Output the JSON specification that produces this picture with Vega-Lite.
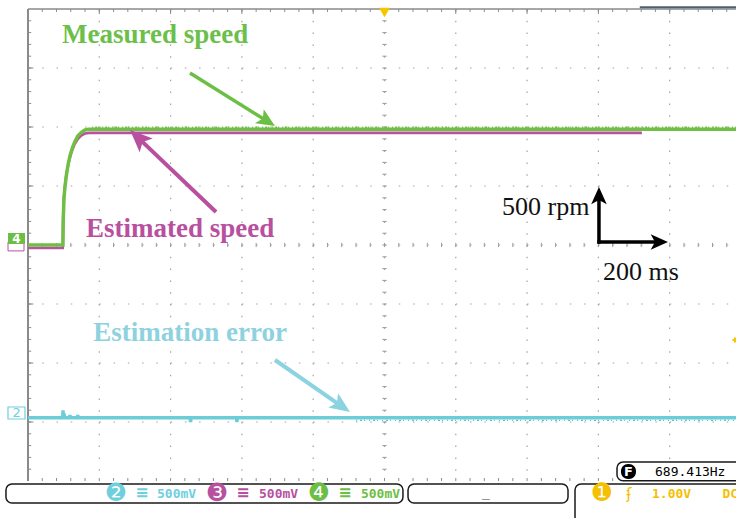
{
  "$schema": "https://vega.github.io/schema/vega-lite/v6.json",
  "width": 708,
  "height": 472,
  "autosize": {"type": "none"},
  "padding": {"left": 28, "top": 9, "right": 0, "bottom": 37},
  "background": "white",
  "config": {"view": {"stroke": null}, "axis": {"disable": true}},
  "datasets": {
    "xmajor": [{"x":1},{"x":2},{"x":3},{"x":4},{"x":5},{"x":6},{"x":7},{"x":8},{"x":9}],
    "ymajor": [{"y":-3},{"y":-2},{"y":-1},{"y":0},{"y":1},{"y":2},{"y":3}],
    "xminor": [{"x":0.2},{"x":0.4},{"x":0.6},{"x":0.8},{"x":1},{"x":1.2},{"x":1.4},{"x":1.6},{"x":1.8},{"x":2},{"x":2.2},{"x":2.4},{"x":2.6},{"x":2.8},{"x":3},{"x":3.2},{"x":3.4},{"x":3.6},{"x":3.8},{"x":4},{"x":4.2},{"x":4.4},{"x":4.6},{"x":4.8},{"x":5},{"x":5.2},{"x":5.4},{"x":5.6},{"x":5.8},{"x":6},{"x":6.2},{"x":6.4},{"x":6.6},{"x":6.8},{"x":7},{"x":7.2},{"x":7.4},{"x":7.6},{"x":7.8},{"x":8},{"x":8.2},{"x":8.4},{"x":8.6},{"x":8.8},{"x":9},{"x":9.2},{"x":9.4},{"x":9.6},{"x":9.8}],
    "yminor": [{"y":-3.8},{"y":-3.6},{"y":-3.4},{"y":-3.2},{"y":-3},{"y":-2.8},{"y":-2.6},{"y":-2.4},{"y":-2.2},{"y":-2},{"y":-1.8},{"y":-1.6},{"y":-1.4},{"y":-1.2},{"y":-1},{"y":-0.8},{"y":-0.6},{"y":-0.4},{"y":-0.2},{"y":0},{"y":0.2},{"y":0.4},{"y":0.6},{"y":0.8},{"y":1},{"y":1.2},{"y":1.4},{"y":1.6},{"y":1.8},{"y":2},{"y":2.2},{"y":2.4},{"y":2.6},{"y":2.8},{"y":3},{"y":3.2},{"y":3.4},{"y":3.6},{"y":3.8}],
    "measured": [{"x":0,"y":0},{"x":0.49,"y":0},{"x":0.495,"y":0.45},{"x":0.505,"y":0.8},{"x":0.52,"y":1.0},{"x":0.54,"y":1.2},{"x":0.565,"y":1.38},{"x":0.59,"y":1.52},{"x":0.62,"y":1.64},{"x":0.66,"y":1.76},{"x":0.7,"y":1.85},{"x":0.75,"y":1.91},{"x":0.8,"y":1.95},{"x":0.85,"y":1.96},{"x":9.93,"y":1.96}],
    "estimated": [{"x":0,"y":-0.05},{"x":0.488,"y":-0.05},{"x":0.492,"y":0.4},{"x":0.5,"y":0.75},{"x":0.515,"y":0.97},{"x":0.535,"y":1.16},{"x":0.56,"y":1.33},{"x":0.585,"y":1.47},{"x":0.615,"y":1.59},{"x":0.655,"y":1.71},{"x":0.7,"y":1.8},{"x":0.75,"y":1.86},{"x":0.8,"y":1.89},{"x":0.86,"y":1.9},{"x":8.61,"y":1.9}],
    "error": [{"x":0,"y":-2.93},{"x":0.488,"y":-2.93},{"x":0.491,"y":-2.8},{"x":0.495,"y":-2.93},{"x":0.505,"y":-2.93},{"x":0.508,"y":-2.86},{"x":0.512,"y":-2.93},{"x":0.585,"y":-2.93},{"x":0.588,"y":-2.88},{"x":0.592,"y":-2.93},{"x":0.695,"y":-2.93},{"x":0.698,"y":-2.88},{"x":0.702,"y":-2.93},{"x":2.275,"y":-2.93},{"x":2.28,"y":-3.0},{"x":2.285,"y":-2.93},{"x":2.925,"y":-2.93},{"x":2.93,"y":-3.0},{"x":2.935,"y":-2.93},{"x":9.93,"y":-2.93}],
    "arrows": [
      {"name":"measured","x":2.272,"y":2.915,"x2":3.369,"y2":2.088,"tx":3.464,"ty":2.017},
      {"name":"estimated","x":2.637,"y":0.559,"x2":1.532,"y2":1.832,"tx":1.431,"ty":1.949},
      {"name":"error","x":3.464,"y":-1.949,"x2":4.401,"y2":-2.734,"tx":4.516,"ty":-2.831},
      {"name":"speed_scale","x":8.008,"y":0.022,"x2":8.008,"y2":0.83,"tx":8.008,"ty":0.983},
      {"name":"time_scale","x":7.985,"y":0.051,"x2":8.85,"y2":0.051,"tx":8.976,"ty":0.051}
    ],
    "labels": [
      {"name":"measured","label":"Measured speed","x":0.477,"y":3.419},
      {"name":"estimated","label":"Estimated speed","x":0.813,"y":0.136},
      {"name":"error","label":"Estimation error","x":0.916,"y":-1.622},
      {"name":"speed_scale","label":"500 rpm","x":6.648,"y":0.508},
      {"name":"time_scale","label":"200 ms","x":8.065,"y":-0.593}
    ],
    "boxes": [
      {"name":"channels","x":-0.309,"x2":5.259,"y":-4.051,"y2":-4.373},
      {"name":"timebase","x":5.33,"x2":7.574,"y":-4.051,"y2":-4.373},
      {"name":"trigger","x":7.672,"x2":10.6,"y":-4.051,"y2":-4.8},
      {"name":"frequency","x":8.261,"x2":10.6,"y":-3.678,"y2":-3.995}
    ],
    "status": [
      {"part":"badge","ch":"2","text":"❷","x":1.234,"y":-4.21},
      {"part":"badge","ch":"3","text":"❸","x":2.651,"y":-4.21},
      {"part":"badge","ch":"4","text":"❹","x":4.081,"y":-4.21},
      {"part":"badge","ch":"1","text":"❶","x":8.051,"y":-4.21},
      {"part":"coupling","ch":"2","text":"≡","x":1.599,"y":-4.21},
      {"part":"coupling","ch":"3","text":"≡","x":3.015,"y":-4.21},
      {"part":"coupling","ch":"4","text":"≡","x":4.446,"y":-4.21},
      {"part":"edge","ch":"1","text":"ʄ","x":8.429,"y":-4.22},
      {"part":"value","ch":"2","text":"500mV","x":1.809,"y":-4.22},
      {"part":"value","ch":"3","text":"500mV","x":3.24,"y":-4.22},
      {"part":"value","ch":"4","text":"500mV","x":4.67,"y":-4.22},
      {"part":"value","ch":"1","text":"1.00V","x":8.752,"y":-4.22},
      {"part":"value","ch":"1","text":"DC","x":9.74,"y":-4.22}
    ]
  },
  "layer": [
    {"data": {"name": "xmajor"}, "mark": {"type": "rule", "color": "#a3a3a3", "strokeWidth": 1.2, "strokeDash": [1.5, 10.3]},
     "encoding": {"x": {"field": "x", "type": "quantitative", "scale": {"domain": [0, 9.93], "nice": false, "zero": false}}, "y": {"datum": 4, "scale": {"domain": [-4, 4], "nice": false, "zero": false}}, "y2": {"datum": -4}}},
    {"data": {"name": "ymajor"}, "mark": {"type": "rule", "color": "#a3a3a3", "strokeWidth": 1.2, "strokeDash": [1.5, 12.76]},
     "encoding": {"y": {"field": "y", "type": "quantitative", "scale": {"domain": [-4, 4], "nice": false, "zero": false}}, "x": {"datum": 0, "scale": {"domain": [0, 9.93], "nice": false, "zero": false}}, "x2": {"datum": 9.93}}},
    {"data": {"values": [{}]}, "mark": {"type": "rule", "color": "#8a8a8a", "strokeWidth": 1.5}, "encoding": {"x": {"datum": 0}, "x2": {"datum": 9.93}, "y": {"datum": 4}}},
    {"data": {"values": [{}]}, "mark": {"type": "rule", "color": "#8a8a8a", "strokeWidth": 2}, "encoding": {"x": {"datum": 0}, "y": {"datum": 4}, "y2": {"datum": -4}}},
    {"data": {"name": "xminor"}, "mark": {"type": "rule", "color": "#8a8a8a", "strokeWidth": 1}, "encoding": {"x": {"field": "x", "type": "quantitative"}, "y": {"datum": 4}, "y2": {"datum": 3.95}}},
    {"data": {"name": "xmajor"}, "mark": {"type": "rule", "color": "#8a8a8a", "strokeWidth": 1}, "encoding": {"x": {"field": "x", "type": "quantitative"}, "y": {"datum": 4}, "y2": {"datum": 3.915}}},
    {"data": {"name": "xminor"}, "mark": {"type": "rule", "color": "#8a8a8a", "strokeWidth": 1}, "encoding": {"x": {"field": "x", "type": "quantitative"}, "y": {"datum": -4}, "y2": {"datum": -3.95}}},
    {"data": {"name": "yminor"}, "mark": {"type": "rule", "color": "#8a8a8a", "strokeWidth": 1}, "encoding": {"y": {"field": "y", "type": "quantitative"}, "x": {"datum": 0}, "x2": {"datum": 0.045}}},
    {"data": {"name": "ymajor"}, "mark": {"type": "rule", "color": "#8a8a8a", "strokeWidth": 1}, "encoding": {"y": {"field": "y", "type": "quantitative"}, "x": {"datum": 0}, "x2": {"datum": 0.075}}},
    {"data": {"name": "xminor"}, "mark": {"type": "rule", "color": "#9a9a9a", "strokeWidth": 1}, "encoding": {"x": {"field": "x", "type": "quantitative"}, "y": {"datum": -0.035}, "y2": {"datum": 0.035}}},
    {"data": {"name": "yminor"}, "mark": {"type": "rule", "color": "#9a9a9a", "strokeWidth": 1}, "encoding": {"y": {"field": "y", "type": "quantitative"}, "x": {"datum": 4.97}, "x2": {"datum": 5.03}}},

    {"data": {"name": "estimated"}, "mark": {"type": "line", "color": "#b9519e", "strokeWidth": 2.6}, "encoding": {"x": {"field": "x", "type": "quantitative"}, "y": {"field": "y", "type": "quantitative"}}},
    {"data": {"name": "measured"}, "mark": {"type": "line", "color": "#70bf45", "strokeWidth": 3.5}, "encoding": {"x": {"field": "x", "type": "quantitative"}, "y": {"field": "y", "type": "quantitative"}}},
    {"data": {"values": [{"x": 0.9, "y": 1.96}, {"x": 9.93, "y": 1.96}]}, "mark": {"type": "line", "color": "#70bf45", "strokeWidth": 1.5, "yOffset": -2.2, "strokeDash": [1, 2, 2, 1, 1, 3]}, "encoding": {"x": {"field": "x", "type": "quantitative"}, "y": {"field": "y", "type": "quantitative"}}},
    {"data": {"name": "error"}, "mark": {"type": "line", "color": "#6ccdd9", "strokeWidth": 3.5}, "encoding": {"x": {"field": "x", "type": "quantitative"}, "y": {"field": "y", "type": "quantitative"}}},
    {"data": {"values": [{"x": 4.6, "y": -2.93}, {"x": 9.93, "y": -2.93}]}, "mark": {"type": "line", "color": "#5cc2cf", "strokeWidth": 1.2, "yOffset": 2.5, "strokeDash": [1, 3, 2, 2, 1, 4]}, "encoding": {"x": {"field": "x", "type": "quantitative"}, "y": {"field": "y", "type": "quantitative"}}},

    {"data": {"name": "arrows"}, "transform": [{"filter": "datum.name === 'measured'"}], "mark": {"type": "rule", "color": "#6cbf45", "strokeWidth": 3.5}, "encoding": {"x": {"field": "x", "type": "quantitative"}, "y": {"field": "y", "type": "quantitative"}, "x2": {"field": "x2"}, "y2": {"field": "y2"}}},
    {"data": {"name": "arrows"}, "transform": [{"filter": "datum.name === 'estimated'"}], "mark": {"type": "rule", "color": "#b8509f", "strokeWidth": 4}, "encoding": {"x": {"field": "x", "type": "quantitative"}, "y": {"field": "y", "type": "quantitative"}, "x2": {"field": "x2"}, "y2": {"field": "y2"}}},
    {"data": {"name": "arrows"}, "transform": [{"filter": "datum.name === 'error'"}], "mark": {"type": "rule", "color": "#8bd3e0", "strokeWidth": 4}, "encoding": {"x": {"field": "x", "type": "quantitative"}, "y": {"field": "y", "type": "quantitative"}, "x2": {"field": "x2"}, "y2": {"field": "y2"}}},
    {"data": {"name": "arrows"}, "transform": [{"filter": "datum.name === 'speed_scale' || datum.name === 'time_scale'"}], "mark": {"type": "rule", "color": "#000000", "strokeWidth": 3.5}, "encoding": {"x": {"field": "x", "type": "quantitative"}, "y": {"field": "y", "type": "quantitative"}, "x2": {"field": "x2"}, "y2": {"field": "y2"}}},
    {"data": {"name": "arrows"}, "transform": [{"filter": "datum.name === 'measured'"}], "mark": {"type": "point", "shape": "M0,0L0.9,2L0,1.55L-0.9,2Z", "filled": true, "opacity": 1, "color": "#6cbf45", "size": 340, "angle": 122, "strokeWidth": 0}, "encoding": {"x": {"field": "tx", "type": "quantitative"}, "y": {"field": "ty", "type": "quantitative"}}},
    {"data": {"name": "arrows"}, "transform": [{"filter": "datum.name === 'estimated'"}], "mark": {"type": "point", "shape": "M0,0L0.85,2L0,1.55L-0.85,2Z", "filled": true, "opacity": 1, "color": "#b8509f", "size": 500, "angle": 313.6, "strokeWidth": 0}, "encoding": {"x": {"field": "tx", "type": "quantitative"}, "y": {"field": "ty", "type": "quantitative"}}},
    {"data": {"name": "arrows"}, "transform": [{"filter": "datum.name === 'error'"}], "mark": {"type": "point", "shape": "M0,0L0.85,2L0,1.55L-0.85,2Z", "filled": true, "opacity": 1, "color": "#8bd3e0", "size": 420, "angle": 124.7, "strokeWidth": 0}, "encoding": {"x": {"field": "tx", "type": "quantitative"}, "y": {"field": "ty", "type": "quantitative"}}},
    {"data": {"name": "arrows"}, "transform": [{"filter": "datum.name === 'speed_scale'"}], "mark": {"type": "point", "shape": "M0,0L0.9,2L0,1.5L-0.9,2Z", "filled": true, "opacity": 1, "color": "#000000", "size": 300, "angle": 0, "strokeWidth": 0}, "encoding": {"x": {"field": "tx", "type": "quantitative"}, "y": {"field": "ty", "type": "quantitative"}}},
    {"data": {"name": "arrows"}, "transform": [{"filter": "datum.name === 'time_scale'"}], "mark": {"type": "point", "shape": "M0,0L0.9,2L0,1.5L-0.9,2Z", "filled": true, "opacity": 1, "color": "#000000", "size": 300, "angle": 90, "strokeWidth": 0}, "encoding": {"x": {"field": "tx", "type": "quantitative"}, "y": {"field": "ty", "type": "quantitative"}}},

    {"data": {"name": "labels"}, "transform": [{"filter": "datum.name === 'measured'"}], "mark": {"type": "text", "align": "left", "baseline": "alphabetic", "font": "Liberation Serif", "fontWeight": "bold", "fontSize": 27, "color": "#6cbf4a"}, "encoding": {"x": {"field": "x", "type": "quantitative"}, "y": {"field": "y", "type": "quantitative"}, "text": {"field": "label"}}},
    {"data": {"name": "labels"}, "transform": [{"filter": "datum.name === 'estimated'"}], "mark": {"type": "text", "align": "left", "baseline": "alphabetic", "font": "Liberation Serif", "fontWeight": "bold", "fontSize": 27, "color": "#b8509f"}, "encoding": {"x": {"field": "x", "type": "quantitative"}, "y": {"field": "y", "type": "quantitative"}, "text": {"field": "label"}}},
    {"data": {"name": "labels"}, "transform": [{"filter": "datum.name === 'error'"}], "mark": {"type": "text", "align": "left", "baseline": "alphabetic", "font": "Liberation Serif", "fontWeight": "bold", "fontSize": 27, "color": "#8ed2e0"}, "encoding": {"x": {"field": "x", "type": "quantitative"}, "y": {"field": "y", "type": "quantitative"}, "text": {"field": "label"}}},
    {"data": {"name": "labels"}, "transform": [{"filter": "datum.name === 'speed_scale' || datum.name === 'time_scale'"}], "mark": {"type": "text", "align": "left", "baseline": "alphabetic", "font": "Liberation Serif", "fontSize": 26, "color": "#111111"}, "encoding": {"x": {"field": "x", "type": "quantitative"}, "y": {"field": "y", "type": "quantitative"}, "text": {"field": "label"}}},

    {"data": {"values": [{"x": 5.0, "y": 3.94}]}, "mark": {"type": "point", "shape": "triangle-down", "filled": true, "opacity": 1, "color": "#f7c500", "size": 120, "strokeWidth": 0}, "encoding": {"x": {"field": "x", "type": "quantitative"}, "y": {"field": "y", "type": "quantitative"}}},
    {"data": {"values": [{"x": 8.58, "x2": 9.93, "y": 4.03}]}, "mark": {"type": "rule", "color": "#4f6070", "strokeWidth": 2}, "encoding": {"x": {"field": "x", "type": "quantitative"}, "y": {"field": "y", "type": "quantitative"}, "x2": {"field": "x2"}}},
    {"data": {"values": [{"x": 9.916, "y": -1.61}]}, "mark": {"type": "point", "shape": "cross", "filled": true, "opacity": 1, "color": "#f7c500", "size": 25, "strokeWidth": 0}, "encoding": {"x": {"field": "x", "type": "quantitative"}, "y": {"field": "y", "type": "quantitative"}}},

    {"data": {"values": [{"x": -0.2805, "x2": -0.056, "y": 0.05, "y2": -0.1}]}, "mark": {"type": "rect", "fill": "white", "stroke": "#b8509f", "strokeWidth": 1}, "encoding": {"x": {"field": "x", "type": "quantitative"}, "y": {"field": "y", "type": "quantitative"}, "x2": {"field": "x2"}, "y2": {"field": "y2"}}},
    {"data": {"values": [{"x": -0.2805, "x2": -0.042, "y": 0.203, "y2": 0.017}]}, "mark": {"type": "rect", "fill": "#6cbf45"}, "encoding": {"x": {"field": "x", "type": "quantitative"}, "y": {"field": "y", "type": "quantitative"}, "x2": {"field": "x2"}, "y2": {"field": "y2"}}},
    {"data": {"values": [{"x": -0.2805, "x2": -0.042, "y": -2.746, "y2": -2.949}]}, "mark": {"type": "rect", "fill": "white", "stroke": "#6fcfdf", "strokeWidth": 1.2}, "encoding": {"x": {"field": "x", "type": "quantitative"}, "y": {"field": "y", "type": "quantitative"}, "x2": {"field": "x2"}, "y2": {"field": "y2"}}},
    {"data": {"values": [{"t": "4", "x": -0.161, "y": 0.11}]}, "mark": {"type": "text", "align": "center", "baseline": "middle", "font": "DejaVu Sans", "fontWeight": "bold", "fontSize": 12, "color": "white"}, "encoding": {"x": {"field": "x", "type": "quantitative"}, "y": {"field": "y", "type": "quantitative"}, "text": {"field": "t"}}},
    {"data": {"values": [{"t": "2", "x": -0.161, "y": -2.85}]}, "mark": {"type": "text", "align": "center", "baseline": "middle", "font": "DejaVu Sans", "fontSize": 13, "color": "#6fcfdf"}, "encoding": {"x": {"field": "x", "type": "quantitative"}, "y": {"field": "y", "type": "quantitative"}, "text": {"field": "t"}}},

    {"data": {"name": "boxes"}, "mark": {"type": "rect", "fill": "white", "stroke": "#1a1a1a", "strokeWidth": 1.5, "cornerRadius": 6}, "encoding": {"x": {"field": "x", "type": "quantitative"}, "y": {"field": "y", "type": "quantitative"}, "x2": {"field": "x2"}, "y2": {"field": "y2"}}},
    {"data": {"values": [{"x": 8.317, "x2": 8.527, "y": -3.712, "y2": -3.966}]}, "mark": {"type": "rect", "fill": "#000000", "cornerRadius": 7}, "encoding": {"x": {"field": "x", "type": "quantitative"}, "y": {"field": "y", "type": "quantitative"}, "x2": {"field": "x2"}, "y2": {"field": "y2"}}},
    {"data": {"values": [{"t": "F", "x": 8.422, "y": -3.839}]}, "mark": {"type": "text", "align": "center", "baseline": "middle", "font": "DejaVu Sans", "fontWeight": "bold", "fontSize": 13, "color": "white"}, "encoding": {"x": {"field": "x", "type": "quantitative"}, "y": {"field": "y", "type": "quantitative"}, "text": {"field": "t"}}},
    {"data": {"values": [{"t": "689.413Hz", "x": 8.794, "y": -3.839}]}, "mark": {"type": "text", "align": "left", "baseline": "middle", "font": "DejaVu Sans Mono", "fontSize": 13, "color": "#000000"}, "encoding": {"x": {"field": "x", "type": "quantitative"}, "y": {"field": "y", "type": "quantitative"}, "text": {"field": "t"}}},
    {"data": {"values": [{"t": "_", "x": 6.424, "y": -4.2}]}, "mark": {"type": "text", "align": "center", "baseline": "middle", "font": "DejaVu Sans Mono", "fontSize": 13, "color": "#333333"}, "encoding": {"x": {"field": "x", "type": "quantitative"}, "y": {"field": "y", "type": "quantitative"}, "text": {"field": "t"}}},
    {"data": {"name": "status"}, "transform": [{"filter": "datum.part === 'badge'"}], "mark": {"type": "text", "align": "center", "baseline": "middle", "font": "DejaVu Sans", "fontSize": 25},
     "encoding": {"x": {"field": "x", "type": "quantitative"}, "y": {"field": "y", "type": "quantitative"}, "text": {"field": "text"}, "color": {"field": "ch", "type": "nominal", "scale": {"domain": ["1", "2", "3", "4"], "range": ["#f5c000", "#6fcfdf", "#b8509f", "#6cbf45"]}, "legend": null}}},
    {"data": {"name": "status"}, "transform": [{"filter": "datum.part === 'coupling'"}], "mark": {"type": "text", "align": "center", "baseline": "middle", "font": "DejaVu Sans", "fontWeight": "bold", "fontSize": 16},
     "encoding": {"x": {"field": "x", "type": "quantitative"}, "y": {"field": "y", "type": "quantitative"}, "text": {"field": "text"}, "color": {"field": "ch", "type": "nominal", "legend": null}}},
    {"data": {"name": "status"}, "transform": [{"filter": "datum.part === 'edge'"}], "mark": {"type": "text", "align": "center", "baseline": "middle", "font": "DejaVu Sans", "fontSize": 15},
     "encoding": {"x": {"field": "x", "type": "quantitative"}, "y": {"field": "y", "type": "quantitative"}, "text": {"field": "text"}, "color": {"field": "ch", "type": "nominal", "legend": null}}},
    {"data": {"name": "status"}, "transform": [{"filter": "datum.part === 'value'"}], "mark": {"type": "text", "align": "left", "baseline": "middle", "font": "DejaVu Sans Mono", "fontWeight": "bold", "fontSize": 13},
     "encoding": {"x": {"field": "x", "type": "quantitative"}, "y": {"field": "y", "type": "quantitative"}, "text": {"field": "text"}, "color": {"field": "ch", "type": "nominal", "legend": null}}}
  ]
}
